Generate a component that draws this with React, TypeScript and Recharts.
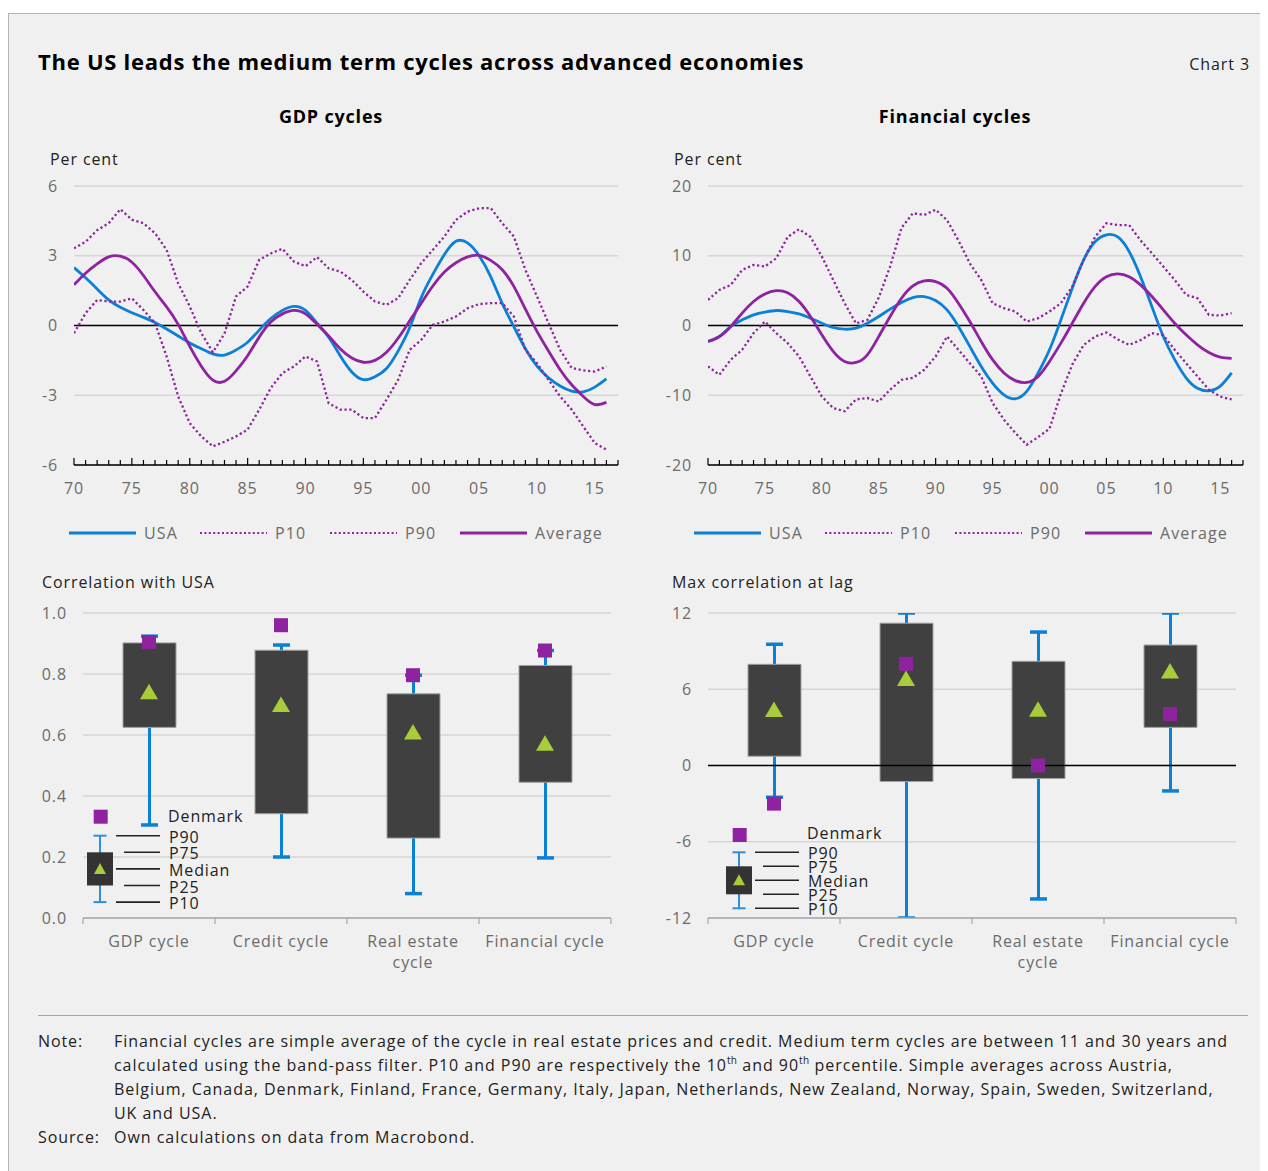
import React from 'react';
import { LineChart, Line, XAxis, YAxis, CartesianGrid, ReferenceLine, ComposedChart, Bar, Scatter } from 'recharts';

const FONT = "'Open Sans', 'Noto Sans', sans-serif";
const BLUE = '#0a80d6';
const PURPLE = '#8f22a0';
const GREEN = '#a8cc3a';
const BOXC = '#404040';
const GRID = '#d6d6d6';
const TICKC = '#6b6b6b';
const DARK = '#222222';
const LS = 0.9; // letter spacing for 16px text

// ---------- Top charts data (1970-2016, annual readings) ----------
const years = [1970, 1971, 1972, 1973, 1974, 1975, 1976, 1977, 1978, 1979, 1980, 1981, 1982, 1983, 1984, 1985, 1986, 1987, 1988, 1989, 1990, 1991, 1992, 1993, 1994, 1995, 1996, 1997, 1998, 1999, 2000, 2001, 2002, 2003, 2004, 2005, 2006, 2007, 2008, 2009, 2010, 2011, 2012, 2013, 2014, 2015, 2016];
const yearTicks = [1970, 1971, 1972, 1973, 1974, 1975, 1976, 1977, 1978, 1979, 1980, 1981, 1982, 1983, 1984, 1985, 1986, 1987, 1988, 1989, 1990, 1991, 1992, 1993, 1994, 1995, 1996, 1997, 1998, 1999, 2000, 2001, 2002, 2003, 2004, 2005, 2006, 2007, 2008, 2009, 2010, 2011, 2012, 2013, 2014, 2015, 2016, 2017];

const gdpUSA = [2.49, 2.05, 1.57, 1.1, 0.78, 0.55, 0.35, 0.13, -0.15, -0.45, -0.75, -1.0, -1.22, -1.27, -1.05, -0.72, -0.2, 0.3, 0.65, 0.82, 0.65, 0.1, -0.5, -1.3, -2.0, -2.33, -2.2, -1.85, -1.1, -0.1, 1.2, 2.2, 3.05, 3.62, 3.55, 3.0, 2.1, 0.95, -0.05, -1.0, -1.75, -2.25, -2.6, -2.82, -2.85, -2.65, -2.3];
const gdpP10 = [-0.33, 0.53, 1.1, 1.03, 1.03, 1.17, 0.67, 0.1, -1.33, -3.05, -4.2, -4.77, -5.2, -5.0, -4.77, -4.48, -3.62, -2.69, -2.05, -1.76, -1.33, -1.55, -3.34, -3.62, -3.62, -3.98, -3.98, -3.19, -2.34, -1.05, -0.62, 0.03, 0.17, 0.39, 0.74, 0.92, 0.96, 0.96, 0.39, -1.05, -1.62, -2.34, -3.05, -3.62, -4.34, -5.06, -5.34];
const gdpP90 = [3.32, 3.6, 4.1, 4.4, 5.0, 4.55, 4.4, 3.97, 3.25, 1.82, 0.82, -0.33, -1.15, -0.35, 1.25, 1.68, 2.82, 3.1, 3.3, 2.75, 2.55, 2.94, 2.46, 2.32, 1.96, 1.46, 1.03, 0.89, 1.17, 1.96, 2.68, 3.25, 3.83, 4.54, 4.9, 5.04, 5.05, 4.4, 3.83, 2.39, 1.25, 0.1, -1.05, -1.83, -1.93, -1.98, -1.76];
const gdpAvg = [1.75, 2.25, 2.65, 2.95, 2.98, 2.72, 2.15, 1.45, 0.8, 0.05, -0.9, -1.75, -2.35, -2.4, -1.95, -1.3, -0.5, 0.15, 0.5, 0.65, 0.5, 0.05, -0.45, -1.0, -1.4, -1.58, -1.5, -1.15, -0.55, 0.2, 0.96, 1.7, 2.3, 2.7, 2.95, 3.02, 2.8, 2.4, 1.68, 0.7, -0.25, -1.1, -1.9, -2.55, -3.05, -3.4, -3.3];

const finUSA = [-2.29, -1.58, -0.14, 0.81, 1.53, 1.91, 2.15, 2.0, 1.67, 1.05, 0.33, -0.29, -0.53, -0.38, 0.33, 1.29, 2.34, 3.29, 4.0, 4.15, 3.58, 2.24, -0.14, -3.0, -5.87, -8.26, -9.93, -10.5, -9.45, -6.8, -3.48, 0.81, 5.35, 9.4, 12.0, 13.0, 12.7, 10.6, 7.0, 2.7, -1.58, -4.9, -7.5, -9.0, -9.36, -8.7, -6.8];
const finP10 = [-5.87, -7.07, -4.9, -3.48, -1.1, 0.57, -1.1, -2.53, -4.44, -7.3, -10.17, -11.84, -12.3, -10.6, -10.4, -10.9, -9.2, -7.8, -7.5, -6.35, -4.44, -1.58, -3.48, -5.4, -7.3, -11.1, -13.5, -15.4, -17.1, -16.0, -14.8, -9.8, -5.6, -2.8, -1.6, -1.0, -2.0, -2.77, -2.1, -1.1, -1.4, -3.48, -5.4, -7.3, -9.2, -10.2, -10.6];
const finP90 = [3.67, 5.1, 5.82, 7.97, 8.69, 8.45, 9.64, 12.7, 13.8, 12.7, 9.9, 6.54, 3.2, 0.3, 0.8, 4.0, 8.45, 14.0, 16.1, 15.85, 16.6, 15.1, 12.2, 8.9, 6.54, 3.2, 2.48, 2.0, 0.57, 1.05, 2.0, 3.2, 5.58, 9.4, 12.7, 14.65, 14.4, 14.4, 12.2, 10.36, 8.45, 6.54, 4.4, 3.9, 1.53, 1.43, 1.77];
const finAvg = [-2.29, -1.58, -0.14, 1.77, 3.44, 4.53, 5.0, 4.7, 3.44, 1.29, -1.34, -3.72, -5.16, -5.3, -4.2, -1.58, 1.29, 3.91, 5.68, 6.4, 6.3, 5.35, 3.2, 0.57, -2.29, -4.9, -6.8, -7.9, -8.16, -7.3, -5.16, -2.53, 0.33, 3.2, 5.58, 7.0, 7.4, 7.0, 5.82, 4.15, 2.24, 0.33, -1.34, -2.77, -3.87, -4.53, -4.72];

const gdpTicks = [-6, -3, 0, 3, 6];
const finTicks = [-20, -10, 0, 10, 20];

// ---------- Bottom charts data ----------
const boxCats = ['GDP cycle', 'Credit cycle', 'Real estate cycle', 'Financial cycle'];
const boxCatLines = [['GDP cycle'], ['Credit cycle'], ['Real estate', 'cycle'], ['Financial cycle']];

const corrP10 = [0.305, 0.2, 0.08, 0.197];
const corrP25 = [0.625, 0.342, 0.262, 0.445];
const corrMedian = [0.742, 0.7, 0.61, 0.573];
const corrP75 = [0.902, 0.878, 0.735, 0.828];
const corrP90 = [0.924, 0.895, 0.796, 0.877];
const corrDenmark = [0.905, 0.96, 0.796, 0.877];
const corrTicks = [0, 0.2, 0.4, 0.6, 0.8, 1.0];

const lagP10 = [-2.5, -12, -10.5, -2.0];
const lagP25 = [0.73, -1.26, -1.02, 3.0];
const lagMedian = [4.4, 6.85, 4.42, 7.44];
const lagP75 = [7.96, 11.2, 8.2, 9.48];
const lagP90 = [9.54, 12, 10.5, 12];
const lagDenmark = [-3.0, 8.0, 0, 4.05];
const lagTicks = [-12, -6, 0, 6, 12];

const gdpData = years.map((y, i) => ({ year: y, usa: gdpUSA[i], p10: gdpP10[i], p90: gdpP90[i], avg: gdpAvg[i] }));
const finData = years.map((y, i) => ({ year: y, usa: finUSA[i], p10: finP10[i], p90: finP90[i], avg: finAvg[i] }));
const corrData = boxCats.map((c, i) => ({ cat: c, whisk: [corrP10[i], corrP90[i]], box: [corrP25[i], corrP75[i]], median: corrMedian[i], dk: corrDenmark[i] }));
const lagData = boxCats.map((c, i) => ({ cat: c, whisk: [lagP10[i], lagP90[i]], box: [lagP25[i], lagP75[i]], median: lagMedian[i], dk: lagDenmark[i] }));

// ---------- helpers ----------
const OFF = 8; // body margin

function Txt({ x, y, size = 16, bold = false, color = DARK, anchor = 'start', ls = LS, children }: any) {
  const lh = Math.round(size * 1.5);
  const style: any = {
    position: 'absolute', top: y - OFF - lh / 2, lineHeight: lh + 'px', fontSize: size,
    fontWeight: bold ? 700 : 400, color, whiteSpace: 'nowrap', fontFamily: FONT, letterSpacing: ls,
  };
  if (anchor === 'start') style.left = x - OFF;
  else if (anchor === 'middle') { style.left = x - OFF; style.transform = 'translateX(-50%)'; }
  else style.right = 1260 - (x - OFF);
  return <div style={style}>{children}</div>;
}

const Sup = ({ children }: any) => (
  <span style={{ fontSize: 10, position: 'relative', top: -7, lineHeight: 0, letterSpacing: 0.3 }}>{children}</span>
);

const YearTick = (props: any) => {
  const { x, y, payload } = props;
  const v = payload.value;
  const major = v % 5 === 0;
  return (
    <g>
      <line x1={x} x2={x} y1={y} y2={y - (major ? 7 : 5)} stroke="#000" strokeWidth={1.2} />
      {major && v < 2017 && (
        <text x={x} y={y + 23} textAnchor="middle" dominantBaseline="central" fill={TICKC} fontSize={16} fontFamily={FONT} style={{ letterSpacing: LS }}>
          {String(v).slice(2)}
        </text>
      )}
    </g>
  );
};

const CatTick = (props: any) => {
  const { x, y, payload, index } = props;
  const off = payload && typeof payload.offset === 'number' ? payload.offset : 0;
  const lines = boxCatLines[index] || [String(payload.value)];
  return (
    <g>
      <line x1={x - off} x2={x - off} y1={y} y2={y + 6} stroke="#a8a8a8" strokeWidth={1.2} />
      {index === boxCats.length - 1 && <line x1={x + off} x2={x + off} y1={y} y2={y + 6} stroke="#a8a8a8" strokeWidth={1.2} />}
      {lines.map((l: string, k: number) => (
        <text key={k} x={x} y={y + 23 + k * 21} textAnchor="middle" dominantBaseline="central" fill={TICKC} fontSize={16} fontFamily={FONT} style={{ letterSpacing: LS }}>{l}</text>
      ))}
    </g>
  );
};

const Whisker = (p: any) => {
  const { x, y, width, height } = p;
  if (x == null || y == null) return null;
  const cx = x + width / 2;
  const top = Math.min(y, y + height);
  const bot = Math.max(y, y + height);
  return (
    <g>
      <line x1={cx} x2={cx} y1={top} y2={bot} stroke={BLUE} strokeWidth={3} />
      <line x1={x} x2={x + width} y1={top} y2={top} stroke={BLUE} strokeWidth={3.5} />
      <line x1={x} x2={x + width} y1={bot} y2={bot} stroke={BLUE} strokeWidth={3.5} />
    </g>
  );
};

const SquareDot = (p: any) => {
  const { cx, cy } = p;
  if (cx == null || cy == null) return null;
  return <rect x={cx - 7} y={cy - 7} width={14} height={14} fill={PURPLE} />;
};

const TriDot = (p: any) => {
  const { cx, cy } = p;
  if (cx == null || cy == null) return null;
  return <polygon points={`${cx},${cy - 8} ${cx + 9},${cy + 7.5} ${cx - 9},${cy + 7.5}`} fill={GREEN} />;
};

const tickStyle = { fill: TICKC, fontSize: 16, fontFamily: FONT, style: { letterSpacing: LS } };

function CycleChart({ left, top, width, yWidth, data, domain, ticks }: any) {
  return (
    <div style={{ position: 'absolute', left: left - OFF, top: top - OFF }}>
      <LineChart width={width} height={330} data={data} margin={{ top: 16, right: 12, bottom: 0, left: 0 }}>
        <CartesianGrid vertical={false} stroke={GRID} strokeWidth={1.3} />
        <ReferenceLine y={0} stroke="#000" strokeWidth={1.3} />
        <XAxis dataKey="year" type="number" domain={[1970, 2017]} ticks={yearTicks} interval={0}
          tick={<YearTick />} tickLine={false} tickSize={0} tickMargin={0} height={35}
          axisLine={{ stroke: '#000', strokeWidth: 1.5 }} allowDataOverflow />
        <YAxis type="number" domain={domain} ticks={ticks} interval={0} width={yWidth} axisLine={false} tickLine={false}
          tickSize={0} tickMargin={16} tick={tickStyle} allowDataOverflow />
        <Line dataKey="usa" type="natural" stroke={BLUE} strokeWidth={2.8} dot={false} activeDot={false} isAnimationActive={false} />
        <Line dataKey="p10" type="linear" stroke={PURPLE} strokeWidth={2.3} strokeDasharray="2.2 2.6" dot={false} activeDot={false} isAnimationActive={false} />
        <Line dataKey="p90" type="linear" stroke={PURPLE} strokeWidth={2.3} strokeDasharray="2.2 2.6" dot={false} activeDot={false} isAnimationActive={false} />
        <Line dataKey="avg" type="natural" stroke={PURPLE} strokeWidth={2.8} dot={false} activeDot={false} isAnimationActive={false} />
      </LineChart>
    </div>
  );
}

const legendItems = [
  { label: 'USA', color: BLUE, dash: undefined, dx: 0 },
  { label: 'P10', color: PURPLE, dash: '2 2.4', dx: 131 },
  { label: 'P90', color: PURPLE, dash: '2 2.4', dx: 261 },
  { label: 'Average', color: PURPLE, dash: undefined, dx: 391 },
];

function LegendRow({ x0, y }: any) {
  return (
    <svg style={{ position: 'absolute', left: x0 - OFF, top: y - OFF - 12 }} width={560} height={24}>
      {legendItems.map((it) => (
        <g key={it.label}>
          <line x1={it.dx} x2={it.dx + 67} y1={12} y2={12} stroke={it.color} strokeWidth={it.dash ? 2.2 : 3} strokeDasharray={it.dash} />
          <text x={it.dx + 75} y={12} dominantBaseline="central" fill={TICKC} fontSize={16} fontFamily={FONT} style={{ letterSpacing: 1.1 }}>{it.label}</text>
        </g>
      ))}
    </svg>
  );
}

function BoxChart({ left, top, data, domain, ticks, fmt, zero }: any) {
  return (
    <div style={{ position: 'absolute', left: left - OFF, top: top - OFF }}>
      <ComposedChart width={593} height={381} data={data} margin={{ top: 16, right: 12, bottom: 0, left: 0 }} barCategoryGap={0} barGap={0}>
        <CartesianGrid xAxisId="a" vertical={false} stroke={GRID} strokeWidth={1.3} />
        {zero && <ReferenceLine xAxisId="a" y={0} stroke="#000" strokeWidth={1.3} />}
        <XAxis xAxisId="a" dataKey="cat" type="category" height={60} interval={0} tick={<CatTick />} tickLine={false}
          tickSize={0} tickMargin={0} axisLine={{ stroke: '#a8a8a8', strokeWidth: 1.3 }} />
        <XAxis xAxisId="b" dataKey="cat" type="category" hide />
        <YAxis type="number" domain={domain} ticks={ticks} interval={0} width={53} axisLine={false} tickLine={false}
          tickSize={0} tickMargin={16} tickFormatter={fmt} tick={tickStyle} allowDataOverflow />
        <Bar xAxisId="b" dataKey="whisk" barSize={17} shape={<Whisker />} isAnimationActive={false} />
        <Bar xAxisId="a" dataKey="box" barSize={53} fill={BOXC} stroke="#a0a0a0" strokeWidth={1} isAnimationActive={false} />
        <Scatter xAxisId="a" dataKey="dk" shape={<SquareDot />} isAnimationActive={false} />
        <Scatter xAxisId="a" dataKey="median" shape={<TriDot />} isAnimationActive={false} />
      </ComposedChart>
    </div>
  );
}

function Inset({ cx, sqY, dkY, yTop, step }: any) {
  const lx = cx + 69;
  const yy = [yTop, yTop + step, yTop + 2 * step, yTop + 3 * step, yTop + 4 * step];
  const labels = ['P90', 'P75', 'Median', 'P25', 'P10'];
  return (
    <svg style={{ position: 'absolute', left: -OFF, top: -OFF, pointerEvents: 'none' }} width={1268} height={1171}>
      <rect x={cx - 6.3} y={sqY - 7} width={14} height={14} fill={PURPLE} />
      <line x1={cx} x2={cx} y1={yy[0]} y2={yy[4]} stroke="#2f8fdc" strokeWidth={2} />
      <line x1={cx - 6.5} x2={cx + 6.5} y1={yy[0]} y2={yy[0]} stroke="#2f8fdc" strokeWidth={2} />
      <line x1={cx - 6.5} x2={cx + 6.5} y1={yy[4]} y2={yy[4]} stroke="#2f8fdc" strokeWidth={2} />
      <rect x={cx - 13} y={yy[1]} width={26} height={yy[3] - yy[1]} fill="#333333" />
      <polygon points={`${cx},${yy[2] - 6} ${cx + 6},${yy[2] + 5} ${cx - 6},${yy[2] + 5}`} fill={GREEN} />
      {yy.map((v, k) => (
        <line key={k} x1={cx + (k % 2 === 1 ? 24 : 16)} x2={cx + 60} y1={v} y2={v} stroke="#222" strokeWidth={1.6} />
      ))}
      <text x={lx - 1} y={dkY} dominantBaseline="central" fill={DARK} fontSize={16} fontFamily={FONT} style={{ letterSpacing: LS }}>Denmark</text>
      {labels.map((l, k) => (
        <text key={l} x={lx} y={yy[k] + 1} dominantBaseline="central" fill={DARK} fontSize={16} fontFamily={FONT} style={{ letterSpacing: LS }}>{l}</text>
      ))}
    </svg>
  );
}

export default function App() {
  return (
    <div style={{ position: 'relative', width: 1260, height: 1163, fontFamily: FONT }}>
      <style>{'html{overflow:hidden}'}</style>
      <div style={{ position: 'absolute', left: 0, top: 5, width: 1260, height: 1158, background: '#f0f0f0', borderTop: '1.5px solid #b4b4b4', borderLeft: '1.5px solid #b4b4b4', boxSizing: 'border-box' }} />

      <Txt x={38} y={61} size={22} bold color="#000" ls={0.75}>The US leads the medium term cycles across advanced economies</Txt>
      <Txt x={1250} y={64} size={16} anchor="end" color={DARK}>Chart 3</Txt>

      <Txt x={331} y={116} size={18} bold anchor="middle" color="#000" ls={0.8}>GDP cycles</Txt>
      <Txt x={955} y={116} size={18} bold anchor="middle" color="#000" ls={0.8}>Financial cycles</Txt>
      <Txt x={50} y={159} size={16}>Per cent</Txt>
      <Txt x={674} y={159} size={16}>Per cent</Txt>

      <CycleChart left={30} top={170} width={600} yWidth={44} data={gdpData} domain={[-6, 6]} ticks={gdpTicks} />
      <CycleChart left={650} top={170} width={605} yWidth={58} data={finData} domain={[-20, 20]} ticks={finTicks} />

      <LegendRow x0={69} y={533} />
      <LegendRow x0={694} y={533} />

      <Txt x={42} y={582} size={16}>Correlation with USA</Txt>
      <Txt x={672} y={582} size={16}>Max correlation at lag</Txt>

      <BoxChart left={30} top={597} data={corrData} domain={[0, 1]} ticks={corrTicks} fmt={(v: number) => v.toFixed(1)} zero={false} />
      <BoxChart left={655} top={597} data={lagData} domain={[-12, 12]} ticks={lagTicks} fmt={(v: number) => String(v)} zero={true} />

      <Inset cx={100} sqY={816.7} dkY={816} yTop={835.7} step={16.6} />
      <Inset cx={739} sqY={835} dkY={833} yTop={852.3} step={14} />

      <div style={{ position: 'absolute', left: 38 - OFF, top: 1015 - OFF, width: 1210, height: 0, borderTop: '1.5px solid #a6a6a6' }} />

      <Txt x={38} y={1041} size={16}>Note:</Txt>
      <Txt x={114} y={1041} size={16} ls={0.96}>Financial cycles are simple average of the cycle in real estate prices and credit. Medium term cycles are between 11 and 30 years and</Txt>
      <Txt x={114} y={1065} size={16} ls={0.96}>calculated using the band-pass filter. P10 and P90 are respectively the 10<Sup>th</Sup> and 90<Sup>th</Sup> percentile. Simple averages across Austria,</Txt>
      <Txt x={114} y={1089} size={16} ls={0.96}>Belgium, Canada, Denmark, Finland, France, Germany, Italy, Japan, Netherlands, New Zealand, Norway, Spain, Sweden, Switzerland,</Txt>
      <Txt x={114} y={1113} size={16} ls={0.96}>UK and USA.</Txt>
      <Txt x={38} y={1137} size={16}>Source:</Txt>
      <Txt x={114} y={1137} size={16} ls={0.96}>Own calculations on data from Macrobond.</Txt>
    </div>
  );
}
